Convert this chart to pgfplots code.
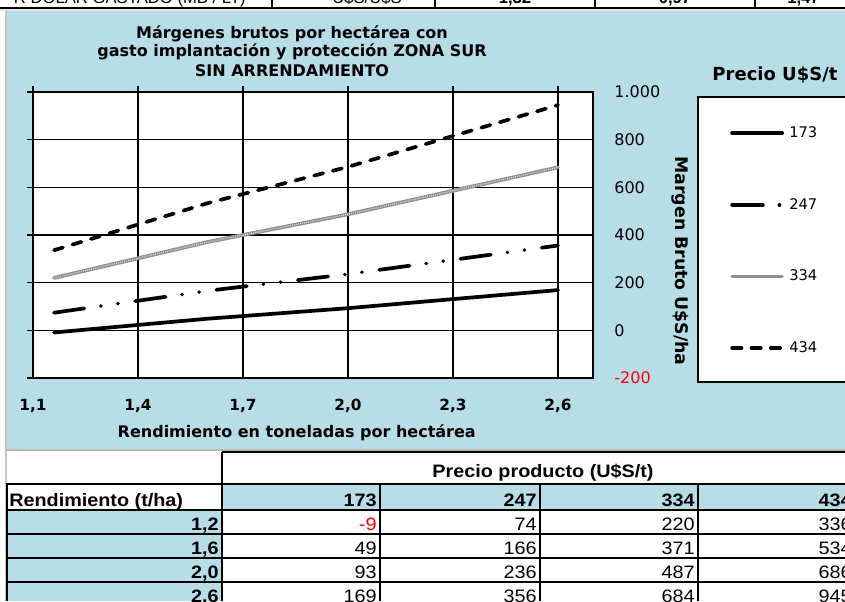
\documentclass[border=0pt]{standalone}
\usepackage{pgfplots}
\usepackage{pgfplotstable}
\pgfplotsset{compat=1.18}
\usepackage{fontspec}
\setmainfont{DejaVu Sans}
\newfontfamily\arial[FakeStretch=1.1]{Liberation Sans}
\newfontfamily\arialtop{Liberation Sans}
\definecolor{xlblue}{HTML}{B7DDE8}
\definecolor{gline}{HTML}{8F8F8F}
\newcommand{\tf}{\arial\fontsize{13.5}{16}\selectfont}
\newcommand{\tb}{\arial\bfseries\fontsize{13.5}{16}\selectfont}

\pgfplotstableread{
x p173 p247 p334 p434
1.16 -9 74 220 336
1.6 49 166 371 534
2.0 93 236 487 686
2.6 169 356 684 945
}\datatable

\begin{document}
\begin{tikzpicture}
\useasboundingbox (0pt,0pt) rectangle (633.75pt,-450.75pt);
\begin{scope}[x=0.75pt,y=-0.75pt]
\clip (0,0) rectangle (845,601);
\fill[white] (0,0) rectangle (845,601);
% --- top spreadsheet row (cut) ---
\node[anchor=base east, inner sep=0, font=\arialtop\fontsize{12.5}{15}\selectfont] at (246,3.5) {R DÓLAR GASTADO (MB / LT)};
\node[anchor=base, inner sep=0, font=\arialtop\fontsize{12.5}{15}\selectfont] at (367,3.5) {U\$S/U\$S};
\node[anchor=base, inner sep=0, font=\arialtop\bfseries\fontsize{12.5}{15}\selectfont] at (515,3.5) {1,32};
\node[anchor=base, inner sep=0, font=\arialtop\bfseries\fontsize{12.5}{15}\selectfont] at (675,3.5) {0,97};
\node[anchor=base west, inner sep=0, font=\arialtop\bfseries\fontsize{12.5}{15}\selectfont] at (787,3.5) {1,47};
\fill[gray!20] (0,8) rectangle (845,11);
\draw[line width=1.5pt] (0,7.5)--(845,7.5);
\foreach \x in {272,435,595,755} {\draw[line width=1.2pt] (\x,-1)--(\x,7.5);}
% --- chart area ---
\fill[xlblue] (7,11) rectangle (845,448.5);
\draw[gray!45, line width=1.2pt] (6,10)--(6,601);
\draw[gray!55, line width=1.2pt] (6,450)--(845,450);
\draw[line width=1pt, fill=white] (698,97) rectangle (880,382);
\node[font=\bfseries\fontsize{12}{14}\selectfont, anchor=base] at (292,38) {Márgenes brutos por hectárea con};
\node[font=\bfseries\fontsize{12}{14}\selectfont, anchor=base] at (292,56.5) {gasto implantación y protección ZONA SUR};
\node[font=\bfseries\fontsize{12}{14}\selectfont, anchor=base] at (292,76.5) {SIN ARRENDAMIENTO};
\node[font=\bfseries\fontsize{13.5}{16}\selectfont, anchor=base] at (775,80) {Precio U\$S/t};
% --- table ---
\fill[xlblue] (222,484) rectangle (845,510);
\fill[xlblue] (7,510) rectangle (222,601);
\draw[line width=1.5pt] (222,452)--(845,452);
\foreach \y in {484,510,534,558,582} {\draw[line width=1.5pt] (6,\y)--(845,\y);}
\draw[line width=1.5pt] (7,484)--(7,601);
\draw[line width=1.5pt] (222,452)--(222,601);
\foreach \x in {380,540,698} {\draw[line width=1.5pt] (\x,484)--(\x,601);}
\begin{scope}[every node/.style={inner sep=0, font=\tf}]
\node[anchor=base, font=\tb] at (543,477.5) {Precio producto (U\$S/t)};
\node[anchor=base west, font=\tb] at (9,506.5) {Rendimiento (t/ha)};
\node[anchor=base east, font=\tb] at (377,506.5) {173};
\node[anchor=base east, font=\tb] at (537,506.5) {247};
\node[anchor=base east, font=\tb] at (695,506.5) {334};
\node[anchor=base east, font=\tb] at (852,506.5) {434};
% rows
\node[anchor=base east, font=\tb] at (219,530.5) {1,2};
\node[anchor=base east, font=\tb] at (219,554.5) {1,6};
\node[anchor=base east, font=\tb] at (219,578.5) {2,0};
\node[anchor=base east, font=\tb] at (219,602.5) {2,6};
\node[anchor=base east, text=red] at (377,530.5) {-9};
\node[anchor=base east] at (537,530.5) {74};
\node[anchor=base east] at (695,530.5) {220};
\node[anchor=base east] at (852,530.5) {336};
\node[anchor=base east] at (377,554.5) {49};
\node[anchor=base east] at (537,554.5) {166};
\node[anchor=base east] at (695,554.5) {371};
\node[anchor=base east] at (852,554.5) {534};
\node[anchor=base east] at (377,578.5) {93};
\node[anchor=base east] at (537,578.5) {236};
\node[anchor=base east] at (695,578.5) {487};
\node[anchor=base east] at (852,578.5) {686};
\node[anchor=base east] at (377,602.5) {169};
\node[anchor=base east] at (537,602.5) {356};
\node[anchor=base east] at (695,602.5) {684};
\node[anchor=base east] at (852,602.5) {945};
\end{scope}
\end{scope}

\begin{axis}[
  at={(24.75pt,-283.5pt)}, anchor=south west,
  scale only axis, width=420pt, height=214.5pt,
  xmin=1.1, xmax=2.7, ymin=-200, ymax=1000,
  xtick={1.1,1.4,1.7,2.0,2.3,2.6},
  xticklabels={{1,1},{1,4},{1,7},{2,0},{2,3},{2,6}},
  ytick={-200,0,200,400,600,800,1000},
  yticklabels={{\textcolor{red}{-200}},0,200,400,600,800,{1.000}},
  xtick pos=right, xticklabel pos=left,
  ytick pos=left, yticklabel pos=right,
  tick align=outside, major tick length=4.5pt,
  xmajorgrids, ymajorgrids,
  grid style={black, line width=0.8pt},
  axis line style={black, line width=0.8pt},
  major tick style={black, line width=0.8pt},
  axis background/.style={fill=white},
  xticklabel style={font=\bfseries\fontsize{11.5}{13}\selectfont, yshift=-8pt},
  yticklabel style={font=\fontsize{12}{14}\selectfont, xshift=8pt},
  xlabel={Rendimiento en toneladas por hectárea},
  xlabel style={font=\bfseries\fontsize{12}{14}\selectfont, at={(axis description cs:0.471,-0.19)}, anchor=center},
  ylabel={Margen Bruto U\$S/ha},
  ylabel style={font=\bfseries\fontsize{13}{15}\selectfont, at={(axis description cs:1.155,0.409)}, anchor=center, rotate=180},
  legend style={at={(axis description cs:1.2446,0.879)}, anchor=north west, draw=none, fill=none, inner sep=0pt, row sep=44pt, column sep=4pt, font=\fontsize{11}{13}\selectfont, nodes={inner sep=0pt}},
  legend cell align=left,
  legend image code/.code={\draw[#1] (0pt,0pt) -- (37.5pt,0pt);},
]
\addplot[black, line width=2.8pt, line cap=round] table[x=x,y=p173] {\datatable};
\addlegendentry{173}
\addplot[black, line width=2.8pt, line cap=round, dash pattern=on 23pt off 12.5pt on 0.1pt off 12.8pt on 0.1pt off 13pt] table[x=x,y=p247] {\datatable};
\addlegendentry{247}
\addplot[gline, line width=2.8pt, line cap=round] table[x=x,y=p334] {\datatable};
\addlegendentry{334}
\addplot[forget plot, white!70!gline, line width=1pt, dash pattern=on 0.6pt off 0.9pt] table[x=x,y=p334] {\datatable};
\addplot[black, line width=2.8pt, line cap=round, dash pattern=on 7pt off 7.5pt] table[x=x,y=p434] {\datatable};
\addlegendentry{434}
\end{axis}
\end{tikzpicture}
\end{document}
